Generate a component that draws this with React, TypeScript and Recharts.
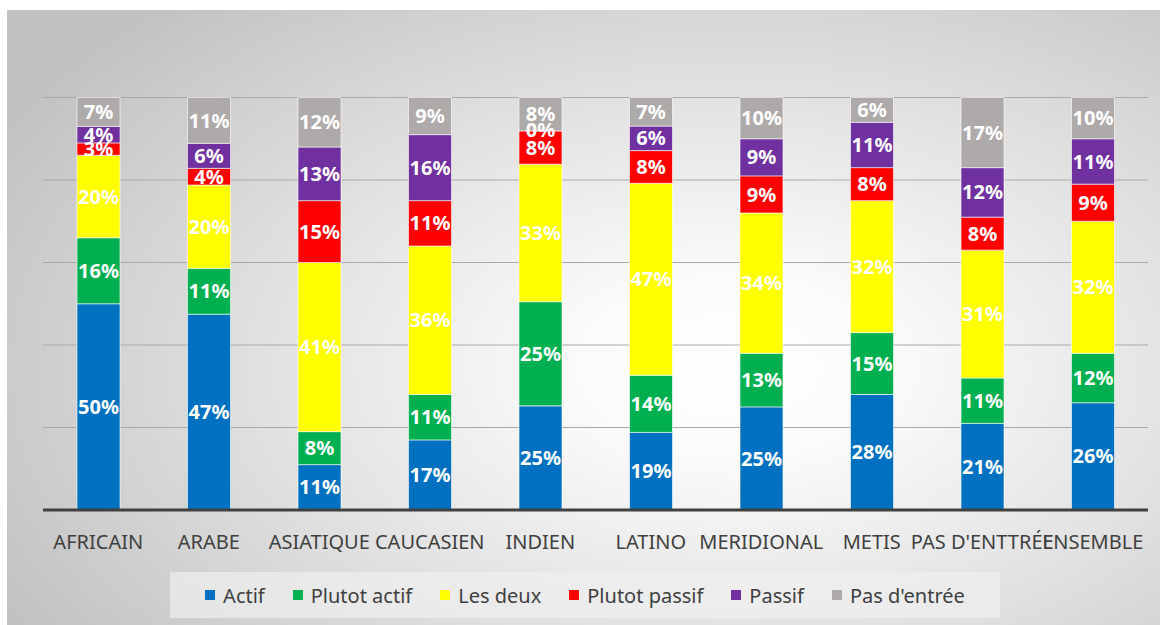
import { Bar, BarChart, CartesianGrid, LabelList, XAxis, YAxis } from "recharts";

const categories = [
  "AFRICAIN",
  "ARABE",
  "ASIATIQUE",
  "CAUCASIEN",
  "INDIEN",
  "LATINO",
  "MERIDIONAL",
  "METIS",
  "PAS D'ENTTRÉE",
  "ENSEMBLE",
];

const actif = [50, 47, 11, 17, 25, 19, 25, 28, 21, 26];
const plutotActif = [16, 11, 8, 11, 25, 14, 13, 15, 11, 12];
const lesDeux = [20, 20, 41, 36, 33, 47, 34, 32, 31, 32];
const plutotPassif = [3, 4, 15, 11, 8, 8, 9, 8, 8, 9];
const passif = [4, 6, 13, 16, 0, 6, 9, 11, 12, 11];
const pasEntree = [7, 11, 12, 9, 8, 7, 10, 6, 17, 10];

const yTicks = [0, 0.2, 0.4, 0.6, 0.8, 1];

interface SeriesDef {
  key: string;
  name: string;
  color: string;
  values: number[];
}

const series: SeriesDef[] = [
  { key: "actif", name: "Actif", color: "#0070C0", values: actif },
  { key: "plutotActif", name: "Plutot actif", color: "#00B050", values: plutotActif },
  { key: "lesDeux", name: "Les deux", color: "#FFFF00", values: lesDeux },
  { key: "plutotPassif", name: "Plutot passif", color: "#FF0000", values: plutotPassif },
  { key: "passif", name: "Passif", color: "#7030A0", values: passif },
  { key: "pasEntree", name: "Pas d'entrée", color: "#AEAAAA", values: pasEntree },
];

const data = categories.map((name, i) => {
  const row: Record<string, string | number> = { name };
  series.forEach((s) => {
    row[s.key] = s.values[i];
  });
  return row;
});

const FONT = "'Noto Sans', sans-serif";

export default function App() {
  return (
    <div
      style={{
        position: "absolute",
        left: 7,
        top: 10,
        width: 1153,
        height: 615,
        fontFamily: FONT,
        background:
          "radial-gradient(ellipse 72% 80% at 63% 58%, #ffffff 0%, #fbfbfb 18%, #e0e0e0 58%, #c2c2c2 100%)",
      }}
    >
      <BarChart
        width={1153}
        height={615}
        data={data}
        stackOffset="expand"
        barSize={43}
        margin={{ top: 87.5, right: 12, left: 36, bottom: 85 }}
      >
        <CartesianGrid vertical={false} stroke="#a9a9a9" strokeWidth={1.2} />
        <YAxis hide domain={[0, 1]} ticks={yTicks} />
        <XAxis
          dataKey="name"
          interval={0}
          tickLine={false}
          tickSize={0}
          tickMargin={25}
          height={30}
          axisLine={{ stroke: "#404040", strokeWidth: 3 }}
          tick={{ fill: "#404040", fontSize: 20, fontFamily: FONT }}
        />
        {series.map((s) => (
          <Bar
            key={s.key}
            dataKey={s.key}
            name={s.name}
            stackId="a"
            fill={s.color}
            stroke="#ffffff"
            strokeOpacity={0.6}
            strokeWidth={1}
            minPointSize={1}
            isAnimationActive={false}
          >
            <LabelList
              dataKey={s.key}
              position="center"
              fill="#ffffff"
              fontSize={20}
              fontWeight="bold"
              fontFamily={FONT}
              formatter={(v: unknown) => `${v}%`}
            />
          </Bar>
        ))}
      </BarChart>

      {/* Legend */}
      <div
        style={{
          position: "absolute",
          left: 163,
          top: 562,
          width: 830,
          height: 46,
          background: "rgba(240,240,240,0.7)",
          display: "flex",
          alignItems: "center",
          justifyContent: "center",
          gap: 28,
        }}
      >
        {series.map((s) => (
          <div key={s.key} style={{ display: "flex", alignItems: "center", gap: 8 }}>
            <span style={{ width: 10, height: 10, background: s.color, display: "inline-block" }} />
            <span style={{ fontSize: 20, color: "#404040" }}>{s.name}</span>
          </div>
        ))}
      </div>
    </div>
  );
}
